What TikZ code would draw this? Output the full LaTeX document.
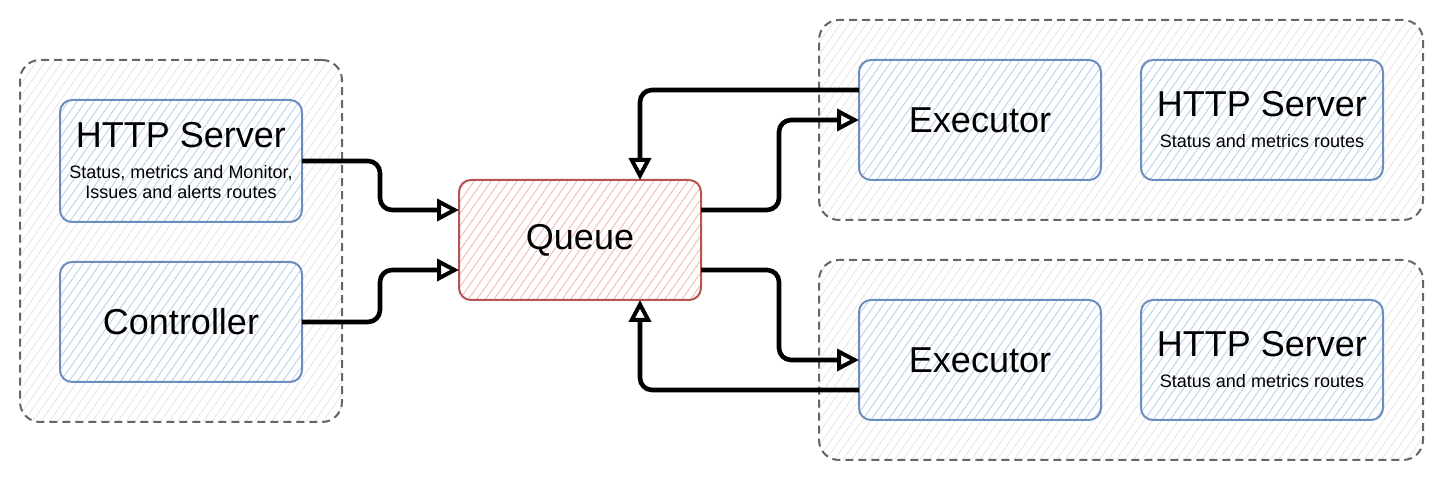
\documentclass[tikz,border=0pt]{standalone}
\usepackage{fontspec}
\setmainfont{Liberation Sans}
\usetikzlibrary{arrows.meta,positioning,fit,backgrounds,patterns.meta}

\definecolor{ramkaN}{HTML}{6C8EBF}
\definecolor{wypelN}{HTML}{C2D6F2}
\definecolor{ramkaC}{HTML}{B85450}
\definecolor{wypelC}{HTML}{F2B8B5}
\definecolor{ramkaG}{HTML}{666666}
\definecolor{wypelG}{HTML}{E4E4E4}

\newcommand\duzy{\fontsize{18}{21}\selectfont}
\newcommand\maly{\fontsize{9}{10.5}\selectfont}

\begin{document}
\begin{tikzpicture}[x=0.5pt,y=-0.5pt,
  modul/.style={
  % The shape:
  rectangle, rounded corners=6pt,
  % The size:
  minimum width=121pt, minimum height=60pt, outer sep=0pt,
  % The border:
  line width=1pt, draw=ramkaN,
  % The filling:
  pattern={Lines[angle=55,distance=3.5pt,line width=0.45pt]}, pattern color=wypelN,
  % Font
  font=\duzy, align=center
  },
  kolejka/.style={
  modul,
  draw=ramkaC,
  pattern color=wypelC
  },
  grupa/.style={
  % The shape:
  rectangle, rounded corners=10pt,
  inner sep=20pt,
  % The border:
  line width=1pt, draw=ramkaG, dash pattern=on 4pt off 2.5pt,
  % The filling:
  pattern={Lines[angle=55,distance=3.5pt,line width=0.4pt]}, pattern color=wypelG
  },
  strzalka/.style={
  line width=2.3pt, rounded corners=6pt,
  -{Triangle[open,length=11pt,width=11pt,line width=2pt]}
  }]
  \useasboundingbox (0,0) rectangle (1442,480);

  % lewa strona
  \node (S0) [modul,minimum height=61pt] at (181,161) {HTTP Server\\[-5.5pt]\maly Status, metrics and Monitor,\\[-11pt]\maly Issues and alerts routes};
  \node (C0) [modul,below=20pt of S0] {Controller};

  \node (Q) [kolejka] at (580,240) {Queue};

  % prawa strona
  \node (E1) [modul] at (980,120) {Executor};
  \node (S1) [modul,right=20pt of E1] {HTTP Server\\[-5.5pt]\maly Status and metrics routes};
  \node (E2) [modul,below=60pt of E1] {Executor};
  \node (S2) [modul,right=20pt of E2] {HTTP Server\\[-5.5pt]\maly Status and metrics routes};

  \begin{scope}[on background layer]
    \node (G0) [grupa,fit=(S0)(C0)] {};
    \node (G1) [grupa,fit=(E1)(S1)] {};
    \node (G2) [grupa,fit=(E2)(S2)] {};
  \end{scope}

  \draw[strzalka] (S0.east) -- ++(39pt,0) |- ([yshift=15pt]Q.west);
  \draw[strzalka] (C0.east) -- ++(39pt,0) |- ([yshift=-15pt]Q.west);

  \draw[strzalka] ([yshift=15pt]Q.east) -- ++(39pt,0) |- (E1.west);
  \draw[strzalka] ([yshift=15pt]E1.west) -| ([xshift=30pt]Q.north);
  \draw[strzalka] ([yshift=-15pt]Q.east) -- ++(39pt,0) |- (E2.west);
  \draw[strzalka] ([yshift=-15pt]E2.west) -| ([xshift=30pt]Q.south);
\end{tikzpicture}
\end{document}
